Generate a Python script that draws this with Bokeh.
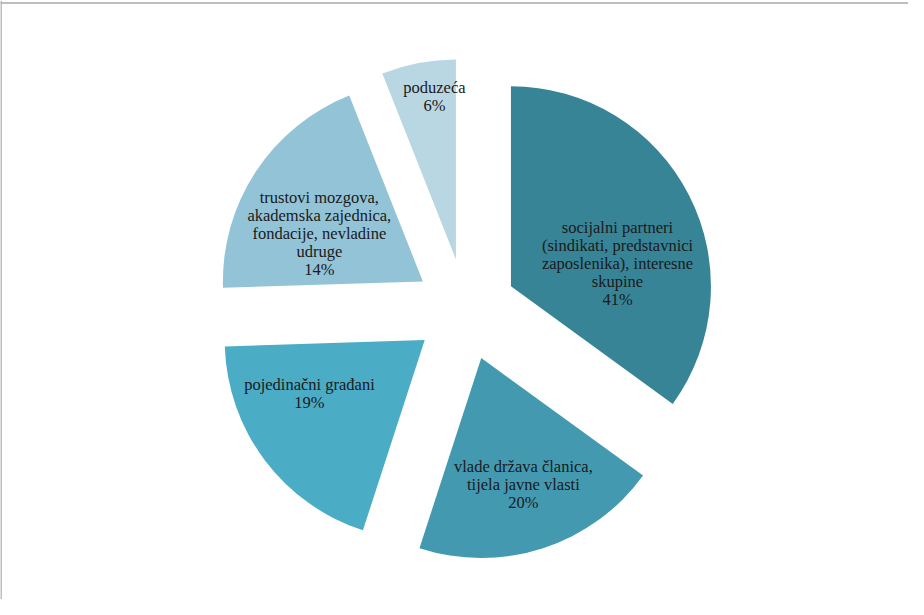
import numpy as np
from bokeh.plotting import figure
from bokeh.models import ColumnDataSource, Range1d, Span
from bokeh.core.properties import value
from bokeh.embed import file_html
from bokeh.resources import INLINE

# ---- data ----
categories = [
    "socijalni partneri\n(sindikati, predstavnici\nzaposlenika), interesne\nskupine",
    "vlade država članica,\ntijela javne vlasti",
    "pojedinačni građani",
    "trustovi mozgova,\nakademska zajednica,\nfondacije, nevladine\nudruge",
    "poduzeća",
]
# share of the circle each slice occupies as drawn
shares = [35, 20, 19.5, 19.5, 6]
# percentages printed in the labels
label_pct = ["41%", "20%", "19%", "14%", "6%"]

# ---- styles / layout ----
colors = ["#378497", "#4399B0", "#4BACC6", "#93C3D6", "#B9D7E3"]
explode = 0.255          # offset of each slice, in radii
# label anchor: (clock angle in degrees from 12 o'clock, distance in radii)
label_polar = [(73.2, 0.794), (161.7, 0.922), (241.7, 0.886), (297.5, 0.824), (351.7, 1.076)]

W, H = 908, 599
scale = 200.0            # pixels per radius
cx_px, cy_px = 473 - 8, 317 - 8   # pie centre inside the plot area

x0 = -cx_px / scale
x1 = (W - cx_px) / scale
y1 = cy_px / scale
y0 = -(H - cy_px) / scale

frac = np.array(shares, dtype=float) / np.sum(shares)
ends = np.cumsum(frac) * 360.0
starts = np.concatenate([[0.0], ends[:-1]])
mids = (starts + ends) / 2.0

xs = explode * np.sin(np.radians(mids))
ys = explode * np.cos(np.radians(mids))

src = ColumnDataSource(dict(
    x=xs, y=ys,
    start=np.radians(90.0 - starts),
    end=np.radians(90.0 - ends),
    color=colors,
))

p = figure(width=W, height=H, output_backend="svg", toolbar_location=None,
           x_range=Range1d(x0, x1), y_range=Range1d(y0, y1),
           min_border=0)
p.axis.visible = False
p.grid.visible = False
p.outline_line_color = None
p.background_fill_color = "white"

p.wedge(x="x", y="y", radius=1.0, start_angle="start", end_angle="end",
        direction="clock", fill_color="color", line_color=None, source=src)

lx = [r * np.sin(np.radians(a)) for a, r in label_polar]
ly = [r * np.cos(np.radians(a)) for a, r in label_polar]
texts = [c + "\n" + pct for c, pct in zip(categories, label_pct)]
lsrc = ColumnDataSource(dict(x=lx, y=ly, t=texts))
p.text(x="x", y="y", text="t", source=lsrc, text_align="center",
       text_baseline="middle", text_font=value("Liberation Serif"),
       text_font_size="16.5px", text_color="#1a1a1a", text_line_height=0.95)

# chart-area frame (left and top edges visible in the reference)
p.add_layout(Span(location=x0 + 0.5 / scale, dimension="height",
                  line_color="#a8a8a8", line_width=1.5))
p.add_layout(Span(location=y1 - 2.5 / scale, dimension="width",
                  line_color="#a8a8a8", line_width=1.5))

open("out.html", "w").write(file_html(p, INLINE))
